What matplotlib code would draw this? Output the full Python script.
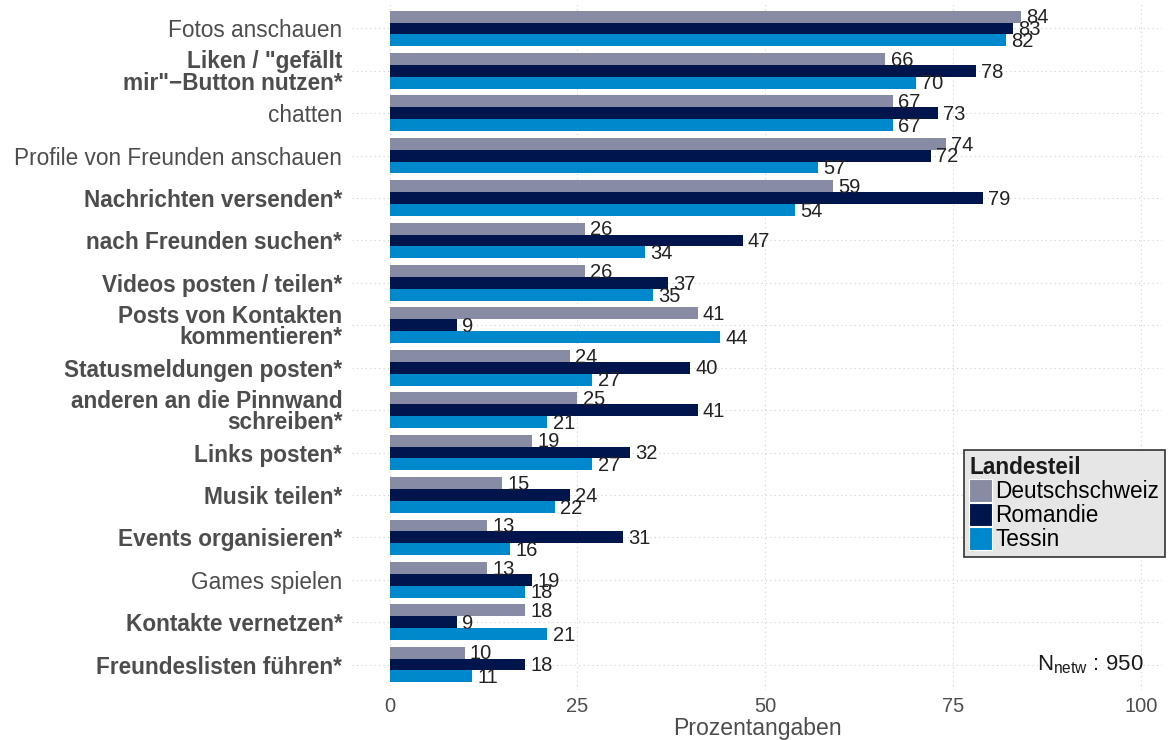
import numpy as np
import matplotlib.pyplot as plt
from matplotlib.patches import Patch

plt.rcParams['font.family'] = ['Liberation Sans', 'DejaVu Sans']
plt.rcParams['mathtext.fontset'] = 'custom'
plt.rcParams['mathtext.rm'] = 'Liberation Sans'

# Data
categories = [
    'Fotos anschauen',
    'Liken / "gefällt\nmir"\u2212Button nutzen*',
    'chatten',
    'Profile von Freunden anschauen',
    'Nachrichten versenden*',
    'nach Freunden suchen*',
    'Videos posten / teilen*',
    'Posts von Kontakten\nkommentieren*',
    'Statusmeldungen posten*',
    'anderen an die Pinnwand\nschreiben*',
    'Links posten*',
    'Musik teilen*',
    'Events organisieren*',
    'Games spielen',
    'Kontakte vernetzen*',
    'Freundeslisten führen*',
]
deutschschweiz = [84, 66, 67, 74, 59, 26, 26, 41, 24, 25, 19, 15, 13, 13, 18, 10]
romandie = [83, 78, 73, 72, 79, 47, 37, 9, 40, 41, 32, 24, 31, 19, 9, 18]
tessin = [82, 70, 67, 57, 54, 34, 35, 44, 27, 21, 27, 22, 16, 18, 21, 11]
series_names = ['Deutschschweiz', 'Romandie', 'Tessin']
colors = ['#878ba4', '#00154c', '#0088cc']
x_ticks = [0, 25, 50, 75, 100]
n_netw = 950

fig = plt.figure(figsize=(11.69, 7.40), dpi=100)
ax = fig.add_axes([352 / 1169, 1 - 690 / 740, (1162 - 352) / 1169, (690 - 3) / 740])

y = np.arange(len(categories))
h = 0.28
for k, (vals, col) in enumerate(zip([deutschschweiz, romandie, tessin], colors)):
    pos = y + (k - 1) * h
    ax.barh(pos, vals, height=h, color=col, zorder=2)
    for p, v in zip(pos, vals):
        ax.text(v + 0.7, p + 0.03, str(v), va='center', ha='left',
                fontsize=14.5, color='#222222', zorder=3)

ax.set_xlim(-5, 102.8)
ax.set_ylim(len(categories) - 0.4, -0.6)
ax.set_yticks(y)
ax.set_yticklabels(categories, fontsize=16.3, color='#4d4d4d', linespacing=0.92)
for lbl, txt in zip(ax.get_yticklabels(), categories):
    if txt.endswith('*'):
        lbl.set_fontweight('bold')
ax.set_xticks(x_ticks)
ax.set_xticklabels([str(t) for t in x_ticks], fontsize=14.5, color='#4d4d4d')
ax.tick_params(axis='both', length=0)
ax.tick_params(axis='y', pad=7)
ax.tick_params(axis='x', pad=5)
ax.set_xlabel('Prozentangaben', fontsize=16.6, color='#4d4d4d', labelpad=1)

for s in ax.spines.values():
    s.set_visible(False)
ax.grid(True, color='#d0d0d0', linestyle=(0, (1, 3)), linewidth=0.8, zorder=0)
ax.set_axisbelow(True)

handles = [Patch(facecolor=c, edgecolor='white', linewidth=0.8) for c in colors]
leg = ax.legend(handles, series_names, title='Landesteil', loc='lower right',
                bbox_to_anchor=(1165 / 1169, 1 - 557 / 740), bbox_transform=fig.transFigure,
                borderaxespad=0,
                fontsize=16.3, title_fontsize=16.3, frameon=True, fancybox=False,
                facecolor='#e6e6e6', edgecolor='#333333', framealpha=1,
                handlelength=1.0, handleheight=1.2, handletextpad=0.15,
                labelspacing=0.0, borderpad=0.25, alignment='left')
leg.get_title().set_fontweight('bold')
leg.get_title().set_color('#1a1a1a')
leg.get_frame().set_linewidth(1.2)

ax.text(100.4, len(categories) - 1, r'N$_{\mathrm{netw}}$ : %d' % n_netw, ha='right', va='center',
        fontsize=16, color='#1a1a1a')

fig.savefig('out.png', dpi=100)
